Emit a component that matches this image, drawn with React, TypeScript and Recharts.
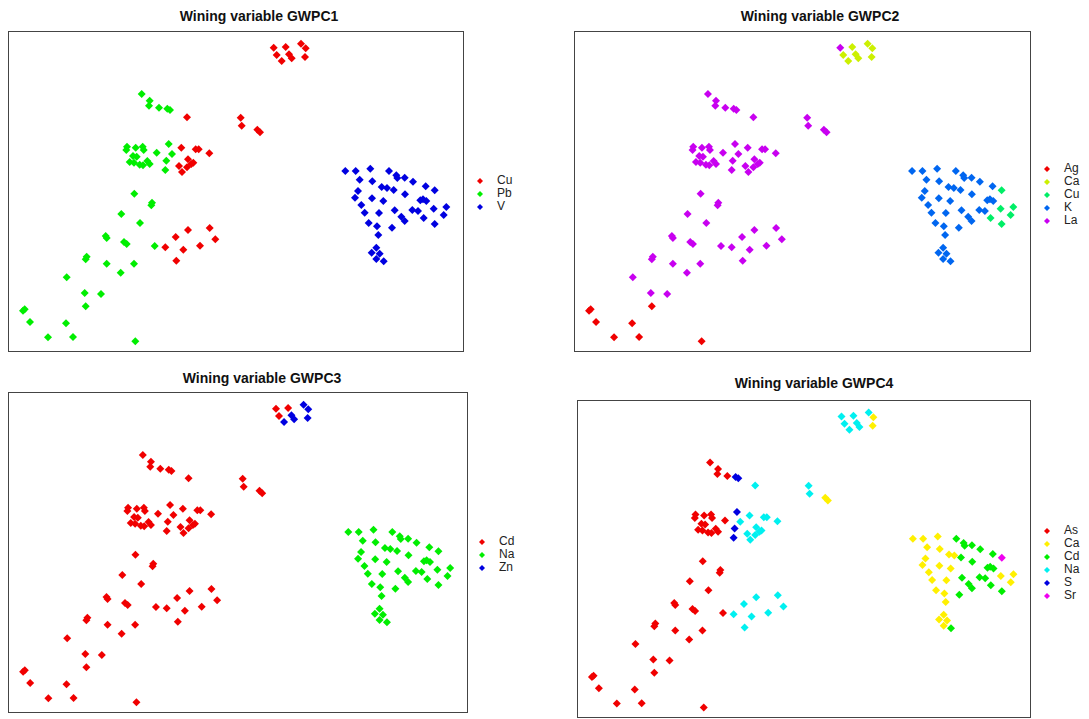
import React from "react"
import { Legend, Scatter, ScatterChart, XAxis, YAxis } from "recharts"

// sampling sites, image-like units (x to the right, y downwards), grouped by cluster
const topSites = [
  [797, 50], [833, 48], [879, 38], [893, 52], [806, 72], [821, 90], [843, 70], [851, 82], [891, 78],
]
const midSites = [
  [698, 260], [701, 284], [748, 296], [756, 304],
]
const eastSites = [
  [1012, 420], [1043, 420], [1087, 413], [1143, 420], [1165, 433], [1168, 441], [1190, 440], [1215, 452], [1055, 446], [1093, 451],
  [1121, 468], [1137, 471], [1157, 477], [1253, 466], [1280, 478], [1050, 480], [1191, 490], [1041, 500], [1092, 502], [1126, 510],
  [1237, 508], [1245, 505], [1255, 510], [1060, 522], [1070, 545], [1113, 546], [1160, 538], [1213, 537], [1230, 540], [1277, 533],
  [1315, 528], [1307, 552], [1180, 557], [1190, 570], [1247, 561], [1082, 576], [1107, 586], [1152, 590], [1280, 579], [1111, 612],
  [1105, 650], [1091, 665], [1115, 668], [1105, 684], [1127, 691],
]
const arcSites = [
  [401, 189], [425, 209], [423, 224], [453, 230], [478, 233], [486, 237], [537, 259],
]
const coreSites = [
  [357, 347], [355, 357], [383, 350], [404, 347], [407, 357], [482, 339], [446, 365], [492, 369], [375, 375], [386, 377],
  [475, 389], [365, 393], [378, 395], [395, 401], [405, 403], [418, 390], [425, 399], [472, 417], [520, 350], [563, 355],
  [572, 355], [604, 367], [540, 385], [556, 395], [550, 399], [513, 405], [537, 409], [522, 423],
]
const westSites = [
  [379, 488], [432, 515], [430, 523], [340, 549], [396, 576], [293, 615], [296, 621], [348, 633], [356, 639], [440, 645],
  [236, 677], [233, 685], [296, 698], [378, 698], [338, 725], [176, 739], [230, 786], [279, 789], [233, 826], [50, 835],
  [45, 839], [66, 873], [174, 877], [120, 919], [195, 918], [382, 931], [540, 597], [605, 591], [503, 618], [622, 625],
  [472, 649], [526, 656], [576, 644], [505, 689],
]

// winning variable per site, same order as the site lists above
const gwpc1 = [
  "Cu Cu Cu Cu Cu Cu Cu Cu Cu",
  "Cu Cu Cu Cu",
  "V V V V V V V V V V V V V V V V V V V V V V V V V V V V V V V V V V V V V V V V V V V V V",
  "Pb Pb Pb Pb Pb Pb Cu",
  "Pb Pb Pb Pb Pb Pb Pb Pb Pb Pb Pb Pb Pb Pb Pb Pb Pb Pb Cu Cu Cu Cu Cu Cu Cu Cu Cu Cu",
  "Pb Pb Pb Pb Pb Pb Pb Pb Pb Pb Pb Pb Pb Pb Pb Pb Pb Pb Pb Pb Pb Pb Pb Pb Pb Pb Cu Cu Cu Cu Cu Cu Cu Cu",
].join(" ").split(" ")
const gwpc2 = [
  "La Ca Ca Ca Ca Ca Ca Ca Ca",
  "La La La La",
  "K K K K K K K K K K K K K K Cu K K K K K K K K K K K K K K Cu Cu Cu K K Cu K K K Cu K K K K K K",
  "La La La La La La La",
  "La La La La La La La La La La La La La La La La La La La La La La La La La La La La",
  "La La La La La La La La La La La La La La La La La La Ag Ag Ag Ag Ag Ag Ag Ag La La La La La La La La",
].join(" ").split(" ")
const gwpc3 = [
  "Cd Cd Zn Zn Cd Zn Zn Zn Zn",
  "Cd Cd Cd Cd",
  "Na Na Na Na Na Na Na Na Na Na Na Na Na Na Na Na Na Na Na Na Na Na Na Na Na Na Na Na Na Na Na Na Na Na Na Na Na Na Na Na Na Na Na Na Na",
  "Cd Cd Cd Cd Cd Cd Cd",
  "Cd Cd Cd Cd Cd Cd Cd Cd Cd Cd Cd Cd Cd Cd Cd Cd Cd Cd Cd Cd Cd Cd Cd Cd Cd Cd Cd Cd",
  "Cd Cd Cd Cd Cd Cd Cd Cd Cd Cd Cd Cd Cd Cd Cd Cd Cd Cd Cd Cd Cd Cd Cd Cd Cd Cd Cd Cd Cd Cd Cd Cd Cd Cd",
].join(" ").split(" ")
const gwpc4 = [
  "Na Na Na Ca Na Na Na Na Ca",
  "Na Na Ca Ca",
  "Ca Ca Ca Cd Cd Cd Cd Cd Ca Ca Ca Ca Cd Cd Sr Ca Cd Ca Ca Ca Cd Cd Cd Ca Ca Ca Cd Cd Cd Ca Ca Ca Cd Cd Cd Ca Ca Cd Cd Ca Ca Ca Ca Ca Cd",
  "As As As As S S Na",
  "As As As As As S As Na As As S As As As As As As S Na Na Na Na Na Na Na Na Na Na",
  "As As As As As As As As As As As As As As As As As As As As As As As As As As Na Na Na Na Na Na Na Na",
].join(" ").split(" ")

const classes1 = ["Cu", "Pb", "V"]
const colors1 = ["#F00000", "#00EE00", "#0000E0"]
const classes2 = ["Ag", "Ca", "Cu", "K", "La"]
const colors2 = ["#F00000", "#CCF000", "#00EE66", "#0066F0", "#C800F0"]
const classes3 = ["Cd", "Na", "Zn"]
const colors3 = ["#F00000", "#00EE00", "#0000E0"]
const classes4 = ["As", "Ca", "Cd", "Na", "S", "Sr"]
const colors4 = ["#F00000", "#FFF000", "#00EE00", "#00F0F0", "#0000E0", "#F000F0"]

const sites = [...topSites, ...midSites, ...eastSites, ...arcSites, ...coreSites, ...westSites]

const panels = [
  { title: "Wining variable GWPC1", labels: gwpc1, classes: classes1, colors: colors1,
    left: 8, top: 31, w: 456, h: 321, titleX: 259, titleY: 16, legX: 475, legY: 174 },
  { title: "Wining variable GWPC2", labels: gwpc2, classes: classes2, colors: colors2,
    left: 574, top: 31, w: 457, h: 321, titleX: 820, titleY: 16, legX: 1042, legY: 162 },
  { title: "Wining variable GWPC3", labels: gwpc3, classes: classes3, colors: colors3,
    left: 8, top: 392, w: 460, h: 321, titleX: 262, titleY: 378, legX: 477, legY: 535 },
  { title: "Wining variable GWPC4", labels: gwpc4, classes: classes4, colors: colors4,
    left: 577, top: 400, w: 454, h: 318, titleX: 814, titleY: 383, legX: 1042, legY: 524 },
]

const Diamond = (props: any) => {
  const { cx, cy, fill } = props
  const r = 4
  return <polygon points={`${cx},${cy - r} ${cx + r},${cy} ${cx},${cy + r} ${cx - r},${cy}`} fill={fill} />
}

const LegendBox = ({ payload }: any) => (
  <div style={{ fontSize: 12, color: "#222" }}>
    {(payload || []).map((e: any) => (
      <div key={e.value} style={{ display: "flex", alignItems: "center", height: 13, lineHeight: "13px" }}>
        <svg width={10} height={10} style={{ marginRight: 12 }}>
          <polygon points="5,2 8,5 5,8 2,5" fill={e.color} />
        </svg>
        <span>{e.value}</span>
      </div>
    ))}
  </div>
)

function Panel({ p }: any) {
  const groups = p.classes.map((c: string) =>
    sites.filter((_, i) => p.labels[i] === c).map(([x, y]) => ({ x, y }))
  )
  return (
    <>
      <div style={{ position: "absolute", left: p.titleX, top: p.titleY, transform: "translate(-50%, -50%)",
        fontWeight: "bold", fontSize: 14, whiteSpace: "nowrap", color: "#111" }}>
        {p.title}
      </div>
      <div style={{ position: "absolute", left: p.left, top: p.top, width: p.w, height: p.h,
        border: "1px solid #444", boxSizing: "border-box" }} />
      <div style={{ position: "absolute", left: p.left, top: p.top }}>
        <ScatterChart width={p.w + 110} height={p.h} margin={{ top: 0, right: 110, bottom: 0, left: 0 }}>
          <XAxis type="number" dataKey="x" domain={[0, 1368]} hide />
          <YAxis type="number" dataKey="y" domain={[0, 963]} reversed hide />
          <Legend layout="vertical" align="center" verticalAlign="middle" content={<LegendBox />}
            wrapperStyle={{ left: p.legX - p.left, top: p.legY - p.top, width: "auto", height: "auto" }} />
          {p.classes.map((c: string, k: number) => (
            <Scatter key={c} name={c} data={groups[k]} fill={p.colors[k]} shape={Diamond} isAnimationActive={false} />
          ))}
        </ScatterChart>
      </div>
    </>
  )
}

export default function App() {
  return (
    <div style={{ position: "absolute", left: 0, top: 0, width: 1089, height: 719, background: "#fff",
      fontFamily: "'Liberation Sans', Arial, sans-serif" }}>
      {panels.map((p) => <Panel key={p.title} p={p} />)}
    </div>
  )
}
